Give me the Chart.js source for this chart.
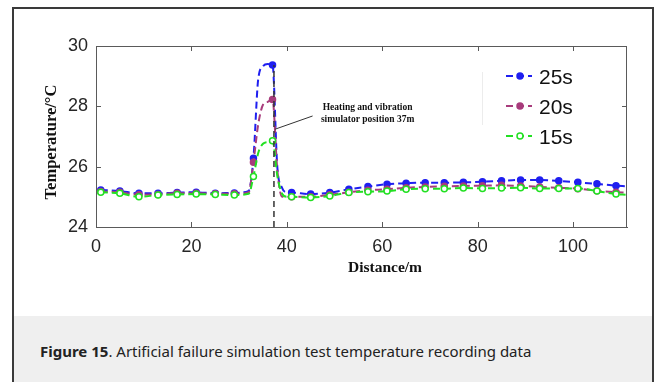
<!DOCTYPE html>
<html>
<head>
<meta charset="utf-8">
<script src="https://cdn.jsdelivr.net/npm/chart.js@4"></script>
<style>
  body { margin: 0; background: #fff; width: 656px; height: 382px; overflow: hidden; position: relative; }
  #frame { position: absolute; left: 12px; top: 7px; width: 638px; height: 307px; border: 2px solid #3a3a3a; }
  #caption { position: absolute; left: 12px; top: 316px; width: 638px; height: 80px; border-left: 2px solid #3a3a3a; border-right: 2px solid #3a3a3a; background: #efefef;
    font-family: "Noto Sans", sans-serif; font-size: 15px; color: #222; }
  #caption p { margin: 0; position: absolute; left: 26px; top: 25px; white-space: nowrap; }
  #chart { position: absolute; left: 0; top: 0; }
</style>
</head>
<body>
<div id="frame"></div>
<div id="caption"><p><b>Figure 15</b>. Artificial failure simulation test temperature recording data</p></div>
<canvas id="chart" width="656" height="316"></canvas>
<script>
// distance (m) where markers are drawn
const markerDistance = [1, 5, 9, 13, 17, 21, 25, 29, 33, 37, 41, 45, 49, 53, 57, 61, 65, 69, 73, 77, 81, 85, 89, 93, 97, 101, 105, 109];
const temp25s = [25.23, 25.19, 25.12, 25.12, 25.14, 25.15, 25.12, 25.13, 26.28, 29.37, 25.14, 25.09, 25.14, 25.25, 25.34, 25.42, 25.45, 25.47, 25.47, 25.48, 25.5, 25.53, 25.56, 25.56, 25.53, 25.48, 25.43, 25.37];
const temp20s = [25.18, 25.15, 25.07, 25.08, 25.12, 25.12, 25.1, 25.1, 26.15, 28.23, 25.0, 25.0, 25.07, 25.15, 25.22, 25.25, 25.3, 25.33, 25.35, 25.36, 25.37, 25.38, 25.36, 25.33, 25.3, 25.27, 25.2, 25.15];
const temp15s = [25.15, 25.12, 25.0, 25.06, 25.08, 25.09, 25.08, 25.06, 25.67, 26.86, 25.0, 24.98, 25.03, 25.14, 25.17, 25.19, 25.25, 25.27, 25.27, 25.29, 25.28, 25.29, 25.3, 25.28, 25.28, 25.28, 25.19, 25.09];

// extra unmarked samples around the hot spot and at the right edge
const peakDistance = [32, 34, 35, 36, 38, 39, 40, 111];
const peak25s = [25.2, 28.9, 29.33, 29.4, 26.0, 25.3, 25.15, 25.35];
const peak20s = [25.15, 27.4, 28.05, 28.15, 25.9, 25.0, 25.0, 25.14];
const peak15s = [25.1, 26.45, 26.76, 26.82, 25.7, 25.1, 25.0, 25.07];

const seriesLabels = ['25s', '20s', '15s'];
const seriesColors = ['#1f1ff0', '#a83c7c', '#22e022'];
const markerFills = ['#1f1ff0', '#a83c7c', '#ffffff'];

// simulator position marker and callout
const simulatorX = [37.3, 37.3];
const simulatorY = [24, 29.37];
const calloutX = [37.5, 45.4];
const calloutY = [27.24, 27.68];
const calloutText = ['Heating and vibration', 'simulator position 37m'];

const xTicks = [0, 20, 40, 60, 80, 100];
const yTicks = [24, 26, 28, 30];

function buildPoints(values, extra) {
    const pts = markerDistance.map((d, i) => ({ x: d, y: values[i], marker: true }));
    peakDistance.forEach((d, i) => pts.push({ x: d, y: extra[i], marker: false }));
    return pts.sort((a, b) => a.x - b.x);
}

function seriesSet(i, values, extra) {
    return {
        label: seriesLabels[i],
        data: buildPoints(values, extra),
        borderColor: seriesColors[i],
        backgroundColor: markerFills[i],
        pointBorderColor: seriesColors[i],
        pointBackgroundColor: markerFills[i],
        pointBorderWidth: 1.5,
        pointRadius: ctx => (ctx.raw && ctx.raw.marker ? 3 : 0),
        borderWidth: 2,
        borderDash: [7, 4],
        cubicInterpolationMode: 'monotone',
        tension: 0.4,
        order: 3 - i + 1
    };
}

const decorPlugin = {
    id: 'decor',
    afterDraw(chart) {
        const { ctx, chartArea: a, scales: { x, y } } = chart;
        ctx.save();
        // box
        ctx.strokeStyle = '#5a5a5a';
        ctx.lineWidth = 1;
        ctx.strokeRect(a.left + 0.5, a.top + 0.5, a.right - a.left - 1, a.bottom - a.top);
        // inward ticks on all sides
        ctx.beginPath();
        xTicks.slice(1).forEach(v => {
            const px = Math.round(x.getPixelForValue(v)) + 0.5;
            ctx.moveTo(px, a.bottom); ctx.lineTo(px, a.bottom - 5);
            ctx.moveTo(px, a.top); ctx.lineTo(px, a.top + 5);
        });
        yTicks.slice(1, -1).forEach(v => {
            const py = Math.round(y.getPixelForValue(v)) + 0.5;
            ctx.moveTo(a.left, py); ctx.lineTo(a.left + 5, py);
            ctx.moveTo(a.right, py); ctx.lineTo(a.right - 5, py);
        });
        ctx.stroke();

        // axis titles
        ctx.fillStyle = '#111';
        ctx.font = 'bold 15.5px "Liberation Serif", "Times New Roman", serif';
        ctx.textAlign = 'center';
        ctx.textBaseline = 'middle';
        ctx.fillText('Distance/m', 385, 268);
        ctx.save();
        ctx.translate(52, 142);
        ctx.rotate(-Math.PI / 2);
        ctx.font = 'bold 16.5px "Liberation Serif", "Times New Roman", serif';
        ctx.fillText('Temperature/°C', 0, 0);
        ctx.restore();

        // callout text
        ctx.font = 'bold 9.5px "Liberation Serif", "Times New Roman", serif';
        const cx = x.getPixelForValue(calloutX[1]) + 55;
        const cy = y.getPixelForValue(calloutY[1]);
        ctx.fillText(calloutText[0], cx, cy - 8);
        ctx.fillText(calloutText[1], cx, cy + 4);

        // legend
        ctx.strokeStyle = '#ececec';
        ctx.beginPath();
        ctx.moveTo(482.5, 72); ctx.lineTo(482.5, 125);
        ctx.stroke();
        ctx.font = '21px "Liberation Sans", Arial, sans-serif';
        ctx.textAlign = 'left';
        [76, 106, 136].forEach((ly, i) => {
            ctx.strokeStyle = seriesColors[i];
            ctx.lineWidth = 2;
            ctx.setLineDash([7, 4]);
            ctx.beginPath();
            ctx.moveTo(506, ly); ctx.lineTo(532, ly);
            ctx.stroke();
            ctx.setLineDash([]);
            ctx.lineWidth = 1.5;
            ctx.fillStyle = markerFills[i];
            ctx.beginPath();
            ctx.arc(520, ly, 3, 0, Math.PI * 2);
            ctx.fill();
            ctx.stroke();
            ctx.fillStyle = '#111';
            ctx.fillText(seriesLabels[i], 539, ly + 2);
        });
        ctx.restore();
    }
};

new Chart(document.getElementById('chart').getContext('2d'), {
    type: 'line',
    data: {
        datasets: [
            {
                label: 'position',
                data: simulatorX.map((v, i) => ({ x: v, y: simulatorY[i] })),
                borderColor: '#333',
                borderWidth: 1.5,
                borderDash: [6, 4],
                pointRadius: 0,
                order: 0
            },
            {
                label: 'callout',
                data: calloutX.map((v, i) => ({ x: v, y: calloutY[i] })),
                borderColor: '#333',
                borderWidth: 1,
                pointRadius: 0,
                order: 0
            },
            seriesSet(0, temp25s, peak25s),
            seriesSet(1, temp20s, peak20s),
            seriesSet(2, temp15s, peak15s)
        ]
    },
    options: {
        responsive: false,
        animation: false,
        devicePixelRatio: 1,
        layout: { padding: { left: 0, top: 46, right: 29, bottom: 0 } },
        plugins: { legend: { display: false }, tooltip: { enabled: false } },
        scales: {
            x: {
                type: 'linear',
                min: 0,
                max: 111.3,
                afterFit: s => { s.height = 89; },
                afterBuildTicks: s => { s.ticks = xTicks.map(v => ({ value: v })); },
                ticks: { font: { size: 18, family: '"Liberation Sans", Arial' }, color: '#262626', padding: 9, maxRotation: 0 },
                grid: { drawOnChartArea: false, drawTicks: false },
                border: { color: '#5a5a5a' }
            },
            y: {
                min: 24,
                max: 30,
                afterFit: s => { s.width = 96; },
                afterBuildTicks: s => { s.ticks = yTicks.map(v => ({ value: v })); },
                ticks: { font: { size: 18, family: '"Liberation Sans", Arial' }, color: '#262626', padding: 8 },
                grid: { drawOnChartArea: false, drawTicks: false },
                border: { color: '#5a5a5a' }
            }
        }
    },
    plugins: [decorPlugin]
});
</script>
</body>
</html>
